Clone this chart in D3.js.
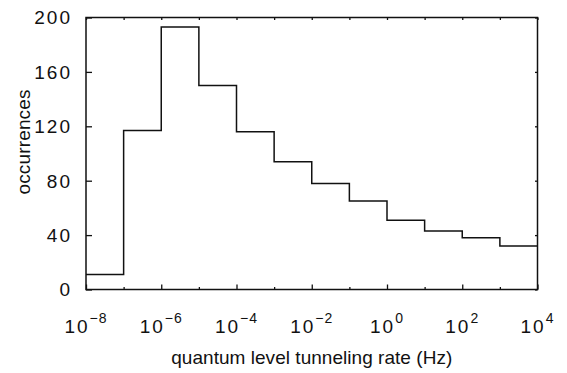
<!DOCTYPE html>
<html>
<head>
<meta charset="utf-8">
<script src="https://cdn.jsdelivr.net/npm/d3@7"></script>
<style>
  html, body { margin: 0; padding: 0; background: #fff; }
  svg { display: block; }
  text { font-family: "Liberation Sans", "DejaVu Sans", sans-serif; fill: #111; }
</style>
</head>
<body>
<svg id="chart" width="567" height="373"></svg>
<script>
// Decade bin edges (log10 of rate in Hz) and occurrences per bin
const edgeExponents = [-8, -7, -6, -5, -4, -3, -2, -1, 0, 1, 2, 3, 4];
const counts = [11, 117, 193, 150, 116, 94, 78, 65, 51, 43, 38, 32];
const yTicks = [0, 40, 80, 120, 160, 200];
const xLabelExponents = [-8, -6, -4, -2, 0, 2, 4];
const xMinorExponents = [-7, -5, -3, -1, 1, 3];

const W = 567, H = 373;
const margin = { left: 86, top: 17.5, right: 29.5, bottom: 83.5 };
const iw = W - margin.left - margin.right;
const ih = H - margin.top - margin.bottom;

const svg = d3.select("#chart");
const g = svg.append("g").attr("transform", `translate(${margin.left},${margin.top})`);

const x = d3.scaleLog().domain([1e-8, 1e4]).range([0, iw]);
const y = d3.scaleLinear().domain([0, 200]).range([ih, 0]);

const ink = "#111";

// frame
g.append("rect")
  .attr("x", 0).attr("y", 0).attr("width", iw).attr("height", ih)
  .attr("fill", "none").attr("stroke", ink).attr("stroke-width", 1.5);

// inward ticks on all four sides
function inwardAxis(axis, transform) {
  const a = g.append("g").attr("transform", transform).call(axis);
  a.select(".domain").remove();
  a.selectAll("line").attr("stroke", ink).attr("stroke-width", 1.3);
  a.selectAll("text").remove();
  return a;
}
const pow = e => Math.pow(10, e);

inwardAxis(d3.axisBottom(x).tickValues(xLabelExponents.map(pow)).tickSize(-5), `translate(0,${ih})`);
inwardAxis(d3.axisBottom(x).tickValues(xMinorExponents.map(pow)).tickSize(-2.5), `translate(0,${ih})`);
inwardAxis(d3.axisTop(x).tickValues(edgeExponents.map(pow)).tickSize(-2.5), `translate(0,0)`);
inwardAxis(d3.axisLeft(y).tickValues(yTicks).tickSize(-6), `translate(0,0)`);
inwardAxis(d3.axisRight(y).tickValues(yTicks).tickSize(-2.5), `translate(${iw},0)`);

// y tick labels
g.selectAll(".ylab").data(yTicks).enter().append("text")
  .attr("class", "ylab")
  .attr("x", -14)
  .attr("y", d => y(d))
  .attr("dy", "0.36em")
  .attr("text-anchor", "end")
  .attr("font-size", 19)
  .attr("letter-spacing", 2)
  .text(d => d);

// x tick labels as powers of ten
const xl = g.selectAll(".xlab").data(xLabelExponents).enter().append("text")
  .attr("class", "xlab")
  .attr("x", d => x(pow(d)))
  .attr("y", ih + 43)
  .attr("text-anchor", "middle")
  .attr("font-size", 19);
xl.append("tspan").attr("letter-spacing", 2).text("10");
xl.append("tspan").attr("dy", -10).attr("font-size", 14)
  .attr("letter-spacing", 1)
  .text(d => (d < 0 ? "\u2212" : "") + Math.abs(d));

// histogram outline
const pts = counts.map((c, i) => [pow(edgeExponents[i]), c]);
pts.push([pow(edgeExponents[edgeExponents.length - 1]), counts[counts.length - 1]]);
g.append("path")
  .datum(pts)
  .attr("fill", "none")
  .attr("stroke", ink)
  .attr("stroke-width", 1.5)
  .attr("d", d3.line().x(d => x(d[0])).y(d => y(d[1])).curve(d3.curveStepAfter));

// axis titles
g.append("text")
  .attr("x", iw / 2)
  .attr("y", ih + 74)
  .attr("text-anchor", "middle")
  .attr("font-size", 19)
  .attr("textLength", 281)
  .attr("lengthAdjust", "spacing")
  .text("quantum level tunneling rate (Hz)");

svg.append("text")
  .attr("transform", `translate(30,142) rotate(-90)`)
  .attr("text-anchor", "middle")
  .attr("font-size", 19)
  .attr("textLength", 105)
  .attr("lengthAdjust", "spacing")
  .text("occurrences");
</script>
</body>
</html>
